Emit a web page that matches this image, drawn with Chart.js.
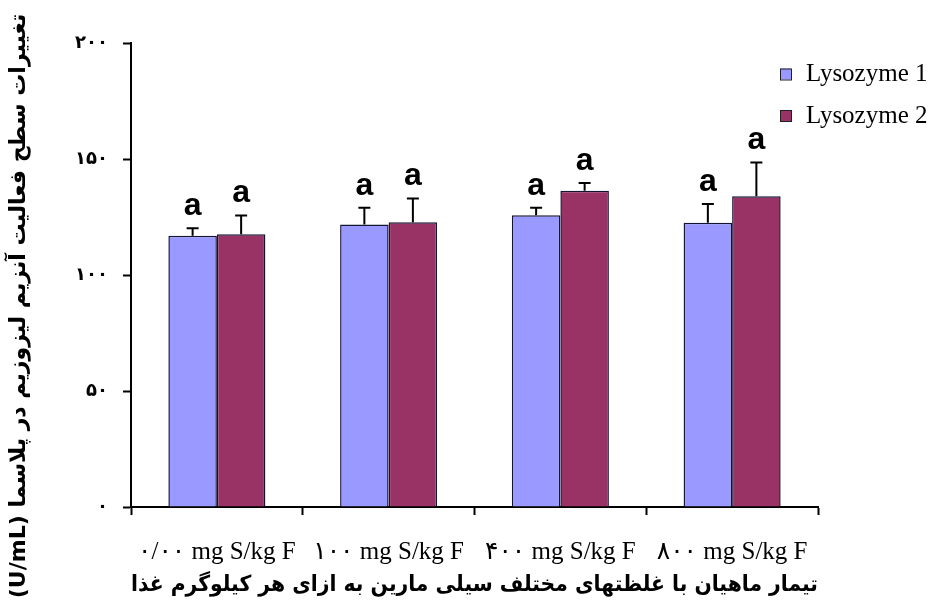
<!DOCTYPE html>
<html lang="fa">
  <head>
    <meta charset="UTF-8" />
    <script src="https://cdn.jsdelivr.net/npm/chart.js"></script>
    <style>
      html, body { margin: 0; padding: 0; background: #fff; }
      #wrap { width: 931px; height: 614px; }
    </style>
  </head>
  <body>
    <div id="wrap"><canvas id="lysoChart"></canvas></div>

    <script>
      // data
      const categories = ["۰/۰۰ mg S/kg F", "۱۰۰ mg S/kg F", "۴۰۰ mg S/kg F", "۸۰۰ mg S/kg F"];
      const lysozyme1 = [116.9, 121.8, 125.8, 122.5];
      const lysozyme1Err = [3.2, 7.2, 3.2, 8.1];
      const lysozyme2 = [117.6, 122.7, 136.3, 133.9];
      const lysozyme2Err = [8.1, 10.3, 3.4, 14.6];
      const letters1 = ["a", "a", "a", "a"];
      const letters2 = ["a", "a", "a", "a"];
      const yTickLabels = ["۰", "۵۰", "۱۰۰", "۱۵۰", "۲۰۰"];
      const yTitle = "تغییرات سطح فعالیت آنزیم لیزوزیم در پلاسما (U/mL)";
      const xTitle = "تیمار ماهیان با غلظتهای مختلف سیلی مارین به ازای هر کیلوگرم غذا";

      // error bars + significance letters
      const errorBars = {
        id: "errorBars",
        afterDatasetsDraw(chart) {
          const ctx = chart.ctx;
          const y = chart.scales.y;
          ctx.save();
          chart.data.datasets.forEach((ds, i) => {
            chart.getDatasetMeta(i).data.forEach((bar, j) => {
              const top = y.getPixelForValue(ds.data[j] + ds.errors[j]);
              ctx.strokeStyle = "#000";
              ctx.lineWidth = 2;
              ctx.beginPath();
              ctx.moveTo(bar.x, bar.y);
              ctx.lineTo(bar.x, top);
              ctx.moveTo(bar.x - 6, top);
              ctx.lineTo(bar.x + 6, top);
              ctx.stroke();
              ctx.fillStyle = "#000";
              ctx.font = "bold 32px 'Liberation Sans'";
              ctx.textAlign = "center";
              ctx.textBaseline = "alphabetic";
              ctx.fillText(ds.letters[j], bar.x, top - 13);
            });
          });
          ctx.restore();
        },
      };

      // legend in the top right corner + rotated y title
      const sideText = {
        id: "sideText",
        afterDraw(chart) {
          const ctx = chart.ctx;
          ctx.save();
          chart.data.datasets.forEach((ds, i) => {
            const cy = 74 + i * 41.5;
            ctx.fillStyle = ds.backgroundColor;
            ctx.fillRect(780, cy - 5.5, 11, 11);
            ctx.strokeStyle = "#222";
            ctx.lineWidth = 1;
            ctx.strokeRect(780.5, cy - 5, 11, 11);
            ctx.fillStyle = "#000";
            ctx.font = "25px 'Liberation Serif'";
            ctx.textAlign = "left";
            ctx.textBaseline = "alphabetic";
            ctx.fillText(ds.label, 806, cy + 7);
          });

          ctx.translate(19, 306);
          ctx.rotate(-Math.PI / 2);
          ctx.direction = "rtl";
          ctx.textAlign = "center";
          ctx.textBaseline = "middle";
          ctx.font = "bold 22px 'DejaVu Sans'";
          ctx.fillText(yTitle, 0, 0);
          ctx.restore();
        },
      };

      const ctx = document.getElementById("lysoChart").getContext("2d");
      new Chart(ctx, {
        type: "bar",
        data: {
          labels: categories,
          datasets: [
            {
              label: "Lysozyme 1",
              data: lysozyme1,
              errors: lysozyme1Err,
              letters: letters1,
              backgroundColor: "#9999ff",
              borderColor: "#141433",
              borderWidth: 1.5,
            },
            {
              label: "Lysozyme 2",
              data: lysozyme2,
              errors: lysozyme2Err,
              letters: letters2,
              backgroundColor: "#993366",
              borderColor: "#141433",
              borderWidth: 1.5,
            },
          ],
        },
        options: {
          responsive: true,
          maintainAspectRatio: false,
          animation: false,
          layout: { padding: { left: 0, right: 113, top: 43, bottom: 12 } },
          plugins: {
            legend: { display: false },
            tooltip: { enabled: false },
          },
          datasets: {
            bar: { barPercentage: 1, categoryPercentage: 0.565 },
          },
          scales: {
            x: {
              afterFit: (s) => { s.height = 95; },
              grid: {
                drawOnChartArea: false,
                tickLength: 8,
                tickColor: "#000",
                tickWidth: 2,
              },
              border: { color: "#000", width: 2 },
              ticks: {
                color: "#000",
                padding: 22,
                font: { family: "'Liberation Serif', 'DejaVu Sans'", size: 25 },
              },
              title: {
                display: true,
                text: xTitle,
                color: "#000",
                font: { family: "'DejaVu Sans'", size: 22, weight: "bold" },
              },
            },
            y: {
              min: 0,
              max: 200,
              afterFit: (s) => { s.width = 131; },
              grid: {
                drawOnChartArea: false,
                tickLength: 8,
                tickColor: "#000",
                tickWidth: 2,
              },
              border: { color: "#000", width: 2 },
              ticks: {
                stepSize: 50,
                color: "#000",
                padding: 15,
                font: { family: "'DejaVu Sans'", size: 18, weight: "bold" },
                callback: (v, i) => yTickLabels[i],
              },
            },
          },
        },
        plugins: [errorBars, sideText],
      });
    </script>
  </body>
</html>
